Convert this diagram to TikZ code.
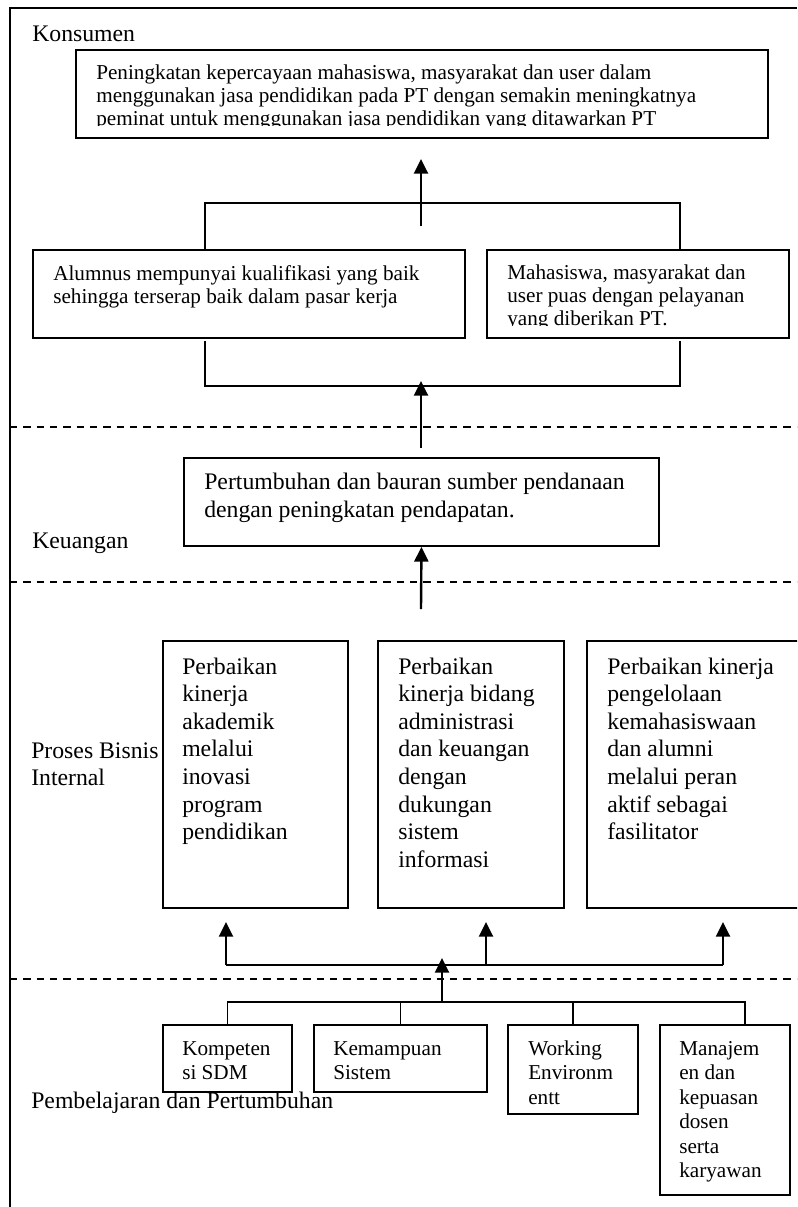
\documentclass[tikz,border=0pt]{standalone}
\usepackage{fontspec}
\setmainfont{Liberation Serif}
\usetikzlibrary{arrows.meta}
\newcommand\fBig{\fontsize{17.8pt}{20.7pt}\selectfont}
\newcommand\fLab{\fontsize{17.8pt}{20.3pt}\selectfont}
\newcommand\fKeu{\fontsize{17.8pt}{21pt}\selectfont}
\newcommand\fSmall{\fontsize{15.9pt}{17.25pt}\selectfont}
\newcommand\fBot{\fontsize{15.9pt}{18.4pt}\selectfont}
\begin{document}
\begin{tikzpicture}[x=0.75pt,y=-0.75pt,
  box/.style={draw, line width=1.45pt, inner sep=0, anchor=north west},
  bx/.style 2 args={box, minimum width=#1*0.75pt, minimum height=#2*0.75pt},
  ln/.style={line width=1.45pt},
  arr/.style={line width=1.8pt, -{Triangle[width=10.5pt,length=11pt]}},
  sep/.style={line width=1.4pt, dash pattern=on 5.5pt off 4.5pt},
  txt/.style={anchor=base west, inner sep=0}]
\clip (0,0) rectangle (797,1207);
\fill[white] (0,0) rectangle (797,1207);

% frame and separators
\draw[ln] (10,1207) -- (10,8) -- (797,8);
\draw[sep] (10,427) -- (797,427);
\draw[sep] (10,582) -- (797,582);
\draw[sep] (10,979) -- (797,979);

% labels
\node[txt] (lk) at (32,41) {\fBig Konsumen};
\node[txt] (lkeu) at (32,548) {\fBig Keuangan};
\node[txt] (lpb) at (31,758) {\parbox[t]{200pt}{\fLab Proses Bisnis\\Internal}};
\node[txt] (lpp) at (31,1108) {\fBig Pembelajaran dan Pertumbuhan};

% boxes
\node[bx={692}{88}] (b1) at (75,49) {};
\node[bx={432}{88}] (b2) at (32,249) {};
\node[bx={302}{88}] (b3) at (486,249) {};
\node[bx={475}{88}] (kb) at (183,457) {};
\node[bx={185}{267}] (p1) at (162,640) {};
\node[bx={186}{267}] (p2) at (377,640) {};
\node[bx={240}{267}] (p3) at (586,640) {};
\node[bx={129}{67}] (k1) at (162,1024) {};
\node[bx={173}{67}] (k2) at (313,1024) {};
\node[bx={130}{89}] (k3) at (507,1024) {};
\node[bx={130}{170}] (k4) at (659,1024) {};

% texts
\begin{scope}
\clip (75,49) rectangle (767,125);
\node[txt] (t1) at (96,79) {\parbox[t]{600pt}{\fSmall Peningkatan kepercayaan mahasiswa, masyarakat dan user dalam\\menggunakan jasa pendidikan pada PT dengan semakin meningkatnya\\peminat untuk menggunakan jasa pendidikan yang ditawarkan PT}};
\end{scope}
\node[txt] (t2) at (53,280) {\parbox[t]{400pt}{\fSmall Alumnus mempunyai kualifikasi yang baik\\sehingga terserap baik dalam pasar kerja}};
\begin{scope}
\clip (486,249) rectangle (788,325);
\node[txt] (t3) at (507,279) {\parbox[t]{300pt}{\fSmall Mahasiswa, masyarakat dan\\user puas dengan pelayanan\\yang diberikan PT.}};
\end{scope}
\node[txt] (tk) at (204,489) {\parbox[t]{400pt}{\fKeu Pertumbuhan dan bauran sumber pendanaan\\dengan peningkatan pendapatan.}};
\node[txt] (tp1) at (182,674) {\parbox[t]{200pt}{\fBig Perbaikan\\kinerja\\akademik\\melalui\\inovasi\\program\\pendidikan}};
\node[txt] (tp2) at (398,674) {\parbox[t]{200pt}{\fBig Perbaikan\\kinerja bidang\\administrasi\\dan keuangan\\dengan\\dukungan\\sistem\\informasi}};
\node[txt] (tp3) at (607,674) {\parbox[t]{200pt}{\fBig Perbaikan kinerja\\pengelolaan\\kemahasiswaan\\dan alumni\\melalui peran\\aktif sebagai\\fasilitator}};
\node[txt] (tk1) at (182,1055) {\parbox[t]{150pt}{\fBot Kompeten\\si SDM}};
\node[txt] (tk2) at (333,1055) {\parbox[t]{150pt}{\fBot Kemampuan\\Sistem}};
\node[txt] (tk3) at (528,1055) {\parbox[t]{150pt}{\fBot Working\\Environm\\entt}};
\node[txt] (tk4) at (679,1055) {\parbox[t]{150pt}{\fBot Manajem\\en dan\\kepuasan\\dosen\\serta\\karyawan}};

% connector points
\coordinate (a1s) at (421,226); \coordinate (a1e) at (421,159);
\coordinate (tl) at (205,203); \coordinate (tr) at (680,203);
\coordinate (bl0) at (205,341); \coordinate (br0) at (680,341);
\coordinate (bl) at (205,386); \coordinate (br) at (680,386);
\coordinate (a2s) at (421,448); \coordinate (a2e) at (421,381);
\coordinate (a3s) at (421,609);
\coordinate (h1) at (226,965); \coordinate (h2) at (486,965); \coordinate (h3) at (723,965);
\coordinate (u1) at (226,922); \coordinate (u2) at (486,922); \coordinate (u3) at (723,922);
\coordinate (c0) at (442,1002); \coordinate (c1) at (442,958);
\coordinate (g4) at (745,1002);

% connectors
\draw[arr] (a1s) -- (a1e);
\draw[ln] (b2.north -| tl) -- (tl) -- (tr) -- (b3.north -| tr);
\draw[ln] (bl0) -- (bl) -- (br) -- (br0);
\draw[arr] (a2s) -- (a2e);
\draw[arr] (a3s) -- (kb.south);
\draw[ln] (h1) -- (h3);
\draw[arr] (h1) -- (u1);
\draw[arr] (h2) -- (u2);
\draw[arr] (h3) -- (u3);
\draw[arr] (c0) -- (c1);
\draw[ln] (k1.north) -- (k1.north |- c0) -- (g4) -- (k4.north -| g4);
\draw[ln] (k2.north) -- (k2.north |- c0);
\draw[ln] (k3.north) -- (k3.north |- c0);
\end{tikzpicture}
\end{document}
